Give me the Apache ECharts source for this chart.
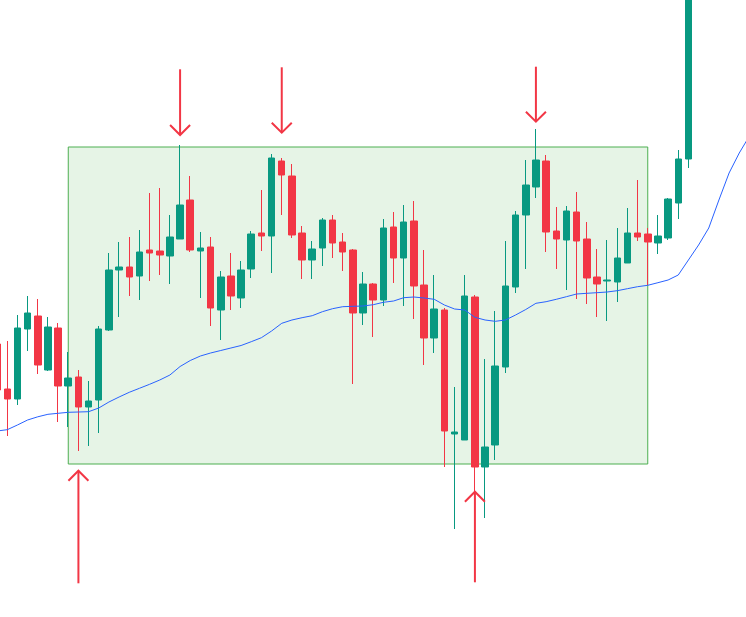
<!DOCTYPE html>
<html>
<head>
<meta charset="utf-8">
<title>K线</title>
<script src="https://cdn.jsdelivr.net/npm/echarts@6/dist/echarts.min.js"></script>
<style>
  html, body { margin: 0; padding: 0; background: #fff; }
  #main { width: 746px; height: 617px; }
</style>
</head>
<body>
<div id="main"></div>
<script type="text/javascript">
    // 蜡烛数据 (开, 收, 低, 高)
    var openP = [65.6,61.1,60.1,67.1,68.4,63.0,67.2,61.4,62.3,59.3,
                 60.0,67.0,73.0,73.3,72.4,75.0,74.9,74.4,76.1,80.0,
                 74.9,75.3,69.0,72.4,70.2,73.1,76.7,76.4,83.9,82.4,
                 76.7,74.0,75.2,78.0,75.8,75.0,68.7,71.6,70.0,77.3,
                 74.2,77.9,71.5,66.2,69.0,56.6,56.0,70.3,53.3,55.5,
                 63.3,71.3,78.5,81.3,83.9,76.9,76.0,78.8,76.1,72.3,
                 71.9,71.8,73.7,76.7,76.6,75.7,76.2,79.7,84.1];
    var closeP = [61.0,60.1,67.2,68.7,63.5,67.3,61.4,62.2,59.3,59.9,
                  67.1,73.0,73.3,72.3,74.8,74.7,74.5,76.3,79.5,75.0,
                  75.2,69.2,72.3,70.4,73.0,76.6,76.4,84.2,82.5,76.5,
                  74.0,75.1,78.0,75.7,74.8,68.7,71.6,70.0,77.2,74.2,
                  77.8,71.4,66.2,69.1,56.9,56.8,70.4,53.3,55.3,63.4,
                  71.4,78.5,81.5,84.0,76.8,76.1,78.9,75.9,72.2,71.6,
                  72.0,74.2,76.7,76.3,75.8,76.4,80.1,84.1,104.0];
    var lowP = [60.8,56.4,59.5,64.9,62.6,62.9,57.8,57.3,54.9,55.4,
                56.7,66.9,68.3,70.4,70.0,71.9,72.5,71.6,76.1,74.8,
                70.2,67.4,66.0,69.0,69.2,72.2,74.9,72.7,78.5,76.2,
                72.1,72.1,73.4,74.2,72.9,61.6,67.5,66.3,69.4,71.7,
                69.4,68.1,63.5,64.7,53.3,47.1,56.0,50.9,48.2,54.0,
                62.7,70.7,73.1,80.2,74.8,73.1,71.0,70.1,69.6,68.3,
                67.9,69.8,73.7,75.9,71.5,74.6,76.0,78.1,83.2];
    var highP = [66.0,65.9,68.5,70.4,70.1,68.3,67.7,64.8,63.0,61.9,
                 67.4,74.7,75.8,76.3,77.0,80.7,81.2,78.5,85.5,82.4,
                 76.8,76.3,72.9,74.7,73.9,76.9,81.0,84.6,84.2,83.6,
                 77.4,75.9,78.2,78.5,76.7,75.1,72.8,71.7,78.1,78.8,
                 79.5,79.9,75.0,72.5,69.2,61.3,72.5,70.5,64.1,68.9,
                 75.9,78.9,84.0,87.1,84.5,79.3,79.4,80.8,77.8,75.1,
                 76.0,77.2,79.2,82.0,77.2,78.5,80.2,85.0,105.0];

    // 均线
    var maP = [56.9,57.03,57.5,58.0,58.32,58.57,58.67,58.77,58.8,58.83,
               59.2,59.8,60.3,60.77,61.17,61.57,62.0,62.5,63.35,63.95,
               64.4,64.7,64.95,65.2,65.45,65.83,66.23,66.9,67.67,68.0,
               68.23,68.43,68.83,69.13,69.33,69.37,69.4,69.53,69.77,69.9,
               70.23,70.3,70.2,70.07,69.5,69.1,69.0,68.27,68.0,67.87,
               68.0,68.5,69.05,69.67,69.83,70.07,70.33,70.6,70.67,70.73,
               70.8,70.93,71.13,71.33,71.47,71.73,72.0,72.5,74.0,75.5,
               77.2,80.0,82.7,84.7,86.4];

    // 震荡区间 (起止K线序号, 上下沿价格)
    var boxIdx = [7, 64];
    var boxPrice = [85.3, 53.6];

    // 箭头 (K线序号, 尾部价格, 箭头尖价格)
    var arrows = [
      [18, 93.07, 86.5],
      [28, 93.27, 86.73],
      [53, 93.33, 87.83],
      [8, 41.67, 52.93],
      [47, 41.77, 50.83]
    ];

    var days = [];
    for (var i = 0; i < maP.length; i++) {
      days.push(String(i + 1));
    }

    var kData = [];
    for (var i = 0; i < days.length; i++) {
      if (i < openP.length) {
        kData.push([openP[i], closeP[i], lowP[i], highP[i]]);
      } else {
        kData.push('-');
      }
    }

    var red = '#f23645';
    var green = '#089981';

    function renderArrow(params, api) {
      var a = api.coord([api.value(0), api.value(1)]);
      var b = api.coord([api.value(0), api.value(2)]);
      var dir = b[1] > a[1] ? -1 : 1;
      var s = 10;
      return {
        type: 'group',
        children: [
          { type: 'line', shape: { x1: a[0], y1: a[1], x2: b[0], y2: b[1] },
            style: { stroke: red, lineWidth: 2 } },
          { type: 'polyline',
            shape: { points: [[b[0] - s, b[1] + dir * s], [b[0], b[1]], [b[0] + s, b[1] + dir * s]] },
            style: { stroke: red, lineWidth: 2, fill: null } }
        ]
      };
    }

    var chart = echarts.init(document.getElementById('main'));

    var option = {
      animation: false,
      backgroundColor: '#ffffff',
      grid: { left: -8, right: -8.5, top: 0, bottom: 0, containLabel: false, outerBoundsMode: 'none' },
      xAxis: {
        type: 'category',
        data: days,
        boundaryGap: true,
        show: false
      },
      yAxis: {
        type: 'value',
        min: 38.3,
        max: 100,
        show: false,
        splitLine: { show: false }
      },
      series: [
        {
          type: 'candlestick',
          data: kData,
          barWidth: 7,
          itemStyle: {
            color: green,
            color0: red,
            borderColor: green,
            borderColor0: red,
            borderWidth: 1
          },
          markArea: {
            silent: true,
            itemStyle: {
              color: 'rgba(76,175,80,0.14)',
              borderColor: '#4caf50',
              borderWidth: 1
            },
            data: [[
              { coord: [boxIdx[0], boxPrice[0]] },
              { coord: [boxIdx[1], boxPrice[1]] }
            ]]
          }
        },
        {
          type: 'line',
          data: maP,
          showSymbol: false,
          smooth: false,
          lineStyle: { color: '#2962ff', width: 1 }
        },
        {
          type: 'custom',
          data: arrows,
          encode: { x: 0, y: [1, 2] },
          renderItem: renderArrow,
          z: 5
        }
      ]
    };

    chart.setOption(option);
</script>
</body>
</html>
